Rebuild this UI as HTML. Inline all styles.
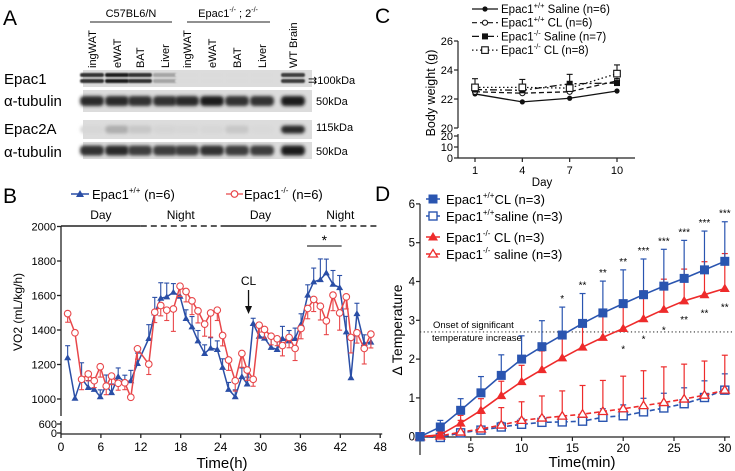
<!DOCTYPE html>
<html><head><meta charset="utf-8">
<style>
html,body{margin:0;padding:0;background:#fff;}
svg{display:block;font-family:"Liberation Sans",Arial,sans-serif;}
</style></head>
<body>
<svg id="fig" width="735" height="471" viewBox="0 0 735 471" xmlns="http://www.w3.org/2000/svg">
<defs>
<filter id="blur" x="-20%" y="-50%" width="140%" height="200%"><feGaussianBlur stdDeviation="1.6"/></filter>
<filter id="blur2" x="-20%" y="-50%" width="140%" height="200%"><feGaussianBlur stdDeviation="0.9"/></filter>
</defs>
<!-- Panel A -->
<g id="panelA">
<text x="3" y="25" font-size="21">A</text>
<text x="131" y="17" font-size="11" text-anchor="middle">C57BL6/N</text>
<line x1="90" y1="22" x2="172" y2="22" stroke="#222" stroke-width="1"/>
<text x="228" y="17" font-size="11" text-anchor="middle">Epac1<tspan font-size="7" dy="-5">-/-</tspan><tspan dy="5"> ; 2</tspan><tspan font-size="7" dy="-5">-/-</tspan></text>
<line x1="187" y1="22" x2="270" y2="22" stroke="#222" stroke-width="1"/>
<g id="lanes"></g>
<g id="blots"></g>
<text x="4" y="84" font-size="15">Epac1</text>
<text x="4" y="106" font-size="15">α-tubulin</text>
<text x="4" y="134" font-size="15">Epac2A</text>
<text x="4" y="157" font-size="15">α-tubulin</text>
<text x="308" y="84" font-size="11">⇉100kDa</text>
<text x="316" y="105" font-size="11">50kDa</text>
<text x="316" y="131" font-size="11">115kDa</text>
<text x="316" y="155" font-size="11">50kDa</text>
</g>
<g id="panelB"></g>
<g id="panelC"></g>
<g id="panelD"></g>
</svg>
<script>
// ---------- Panel A data ----------
const laneNames = ["ingWAT","eWAT","BAT","Liver","ingWAT","eWAT","BAT","Liver","WT Brain"];
const epac1Intensity = [0.85,0.95,0.85,0.3,0.03,0.03,0.03,0.03,0.8];
const tubulin1Intensity = [0.9,0.9,0.85,0.85,0.9,0.95,0.85,0.85,0.95];
const epac2Intensity = [0.05,0.25,0.12,0.06,0.05,0.05,0.12,0.04,0.9];
const tubulin2Intensity = [0.85,0.9,0.8,0.8,0.8,0.85,0.8,0.8,0.95];

// ---------- Panel B data ----------
const bTimes = [1,2.1,3.1,4.1,5,5.9,6.8,7.6,8.6,9.6,10.5,11.5,13.2,14.1,15,15.9,16.9,17.9,18.8,19.7,20.6,21.6,22.5,23.5,24.3,25.2,26.2,27.2,28.0,28.9,29.8,30.6,31.6,32.5,33.3,34.3,35.2,36.1,37.1,38,39,39.9,40.9,41.9,42.9,43.6,44.5,45.6,46.6];
const bWT = [1239,1004,1120,1067,1056,1013,1079,1037,1130,1098,1106,1206,1351,1499,1584,1592,1619,1596,1467,1418,1337,1264,1295,1287,1183,1056,1013,1130,1087,1438,1364,1353,1299,1287,1351,1337,1351,1434,1602,1679,1692,1731,1665,1646,1389,1123,1495,1322,1330];
const bWTerr = [70,0,90,40,50,40,60,50,50,40,60,60,80,90,90,80,50,60,50,60,60,50,60,50,50,40,40,50,40,30,60,50,60,60,70,60,60,60,60,80,120,80,80,70,90,0,60,50,40];
const bKO = [1495,1384,1114,1145,1106,1187,1075,1133,1091,1094,1010,1291,1202,1503,1542,1515,1522,1654,1623,1569,1511,1434,1499,1515,1368,1226,1106,1264,1168,1114,1428,1403,1364,1349,1310,1357,1293,1409,1525,1577,1538,1453,1602,1499,1592,1357,1384,1293,1376];
const bKOerr = [50,0,60,40,40,60,50,50,40,40,0,60,60,60,60,60,130,60,60,80,70,70,140,60,60,60,60,80,60,40,40,50,50,40,60,60,70,60,60,70,80,80,90,100,70,90,60,90,80];
const bYTicks = [1000,1200,1400,1600,1800,2000];
const bXTicks = [0,6,12,18,24,30,36,42,48];

// ---------- Panel C data ----------
const cDays = [1,4,7,10];
const cWTSaline = [22.35,21.8,22.05,22.55];
const cWTCL = [22.5,22.4,22.5,23.25];
const cKOSaline = [22.65,22.6,23.05,23.1];
const cKOCL = [22.8,22.8,22.75,23.75];
const cKOCLerr = [0.6,0.55,0.2,0.6];
const cKOSalineErr = [0.1,0.1,0.65,0.3];
const cYTicks = [20,22,24,26];
const cXTicks = [1,4,7,10];

// ---------- Panel D data ----------
const dTimes = [0,2,4,6,8,10,12,14,16,18,20,22,24,26,28,30];
const dWTCL = [0,0.25,0.68,1.13,1.58,2.0,2.32,2.62,2.92,3.19,3.43,3.66,3.88,4.08,4.30,4.52];
const dWTCLerr = [0,0.17,0.3,0.42,0.53,0.6,0.67,0.72,0.77,0.82,0.87,0.92,0.95,0.98,1.0,1.02];
const dKOCL = [0,0.05,0.35,0.68,1.06,1.42,1.73,2.03,2.31,2.56,2.79,3.04,3.28,3.50,3.66,3.82];
const dKOCLerr = [0,0.05,0.2,0.3,0.37,0.42,0.48,0.5,0.55,0.6,0.65,0.72,0.78,0.82,0.85,0.9];
const dWTSal = [0,-0.02,0.1,0.17,0.25,0.32,0.37,0.38,0.4,0.5,0.54,0.64,0.74,0.85,1.01,1.2];
const dWTSalErr = [0,0.02,0.05,0.08,0.12,0.15,0.15,0.17,0.2,0.22,0.28,0.35,0.38,0.41,0.43,0.42];
const dKOSal = [0,0.02,0.12,0.2,0.3,0.42,0.48,0.53,0.58,0.65,0.72,0.8,0.88,0.97,1.07,1.2];
const dKOSalErr = [0,0.1,0.3,0.4,0.45,0.48,0.57,0.65,0.74,0.8,0.84,0.9,0.92,0.9,0.88,0.9];
const dStarsWT = ["","","","","","","","*","**","**","**","***","***","***","***","***"];
const dStarsKO = ["","","","","","","","","","","*","*","*","**","**","**"];
const dYTicks = [0,1,2,3,4,5,6];
const dXTicks = [5,10,15,20,25,30];

const NS="http://www.w3.org/2000/svg";
function mk(parent,tag,attrs,text){const e=document.createElementNS(NS,tag);for(const k in attrs)e.setAttribute(k,attrs[k]);if(text!==undefined)e.textContent=text;parent.appendChild(e);return e;}

// ----- Panel A drawing -----
(function(){
  const lanesG=document.getElementById('lanes');
  const blots=document.getElementById('blots');
  const laneX=[92,117,140,165,187,212,237,262,293];
  laneNames.forEach((n,i)=>{
    const t=mk(lanesG,'text',{x:0,y:0,'font-size':11,transform:`translate(${laneX[i]+4},68) rotate(-90)`},n);
    
    
  });
  const rows=[{y:70,h:17,d:epac1Intensity,bh:11,name:'epac1-blot',dbl:true},{y:90,h:22,d:tubulin1Intensity,bh:10,name:'tubulin-blot-1'},{y:120,h:19,d:epac2Intensity,bh:8,name:'epac2a-blot'},{y:142,h:17,d:tubulin2Intensity,bh:10,name:'tubulin-blot-2'}];
  rows.forEach(r=>{
    const g=mk(blots,'g',{});
    
    
    mk(g,'rect',{x:83,y:r.y,width:229,height:r.h,fill:'#dcdcdc'});
    r.d.forEach((v,i)=>{
      const c=Math.round(225-v*205);
      const col=`rgb(${c},${c},${c})`;
      if(r.dbl){
        mk(g,'rect',{x:laneX[i]-12,y:r.y+3,width:24,height:4,rx:2,fill:col,filter:'url(#blur2)'});
        mk(g,'rect',{x:laneX[i]-12,y:r.y+9,width:24,height:4,rx:2,fill:col,filter:'url(#blur2)'});
      } else {
        mk(g,'rect',{x:laneX[i]-12,y:r.y+(r.h-r.bh)/2,width:24,height:r.bh,rx:4,fill:col,filter:'url(#blur)'});
      }
    });
  });
})();

// ----- Panel B -----
(function(){
  const g=document.getElementById('panelB');
  const x0=61,pxh=6.65;
  const X=t=>x0+t*pxh;
  const Y=v=>399-(v-1000)*0.1725;
  const lab=mk(g,'text',{x:3,y:203,'font-size':21},'B');
  
  // legend
  const l1=mk(g,'g',{});
  mk(l1,'line',{x1:71,y1:194,x2:89,y2:194,stroke:'#2a4ea6','stroke-width':1.5});
  mk(l1,'path',{d:'M80,190 L84,197 L76,197Z',fill:'#2a4ea6'});
  const t1=mk(l1,'text',{x:92,y:199,'font-size':13});t1.innerHTML='Epac1<tspan font-size="8" dy="-6">+/+</tspan><tspan dy="6"> (n=6)</tspan>';
  const l2=mk(g,'g',{});
  mk(l2,'line',{x1:226,y1:194,x2:243,y2:194,stroke:'#e8474a','stroke-width':1.2});
  mk(l2,'circle',{cx:234.5,cy:194,r:3.3,fill:'#fff',stroke:'#e8474a','stroke-width':1.2});
  const t2=mk(l2,'text',{x:244,y:199,'font-size':13});t2.innerHTML='Epac1<tspan font-size="8" dy="-6">-/-</tspan><tspan dy="6"> (n=6)</tspan>';
  // day/night bar
  const dn=[[0,12,'Day',false],[12,24,'Night',true],[24,36,'Day',false],[36,48,'Night',true]];
  dn.forEach((d,i)=>{
    const ln=mk(g,'line',{x1:X(d[0]),y1:226,x2:X(d[1]),y2:226,stroke:'#222','stroke-width':1.6});
    if(d[3])ln.setAttribute('stroke-dasharray','6,4');
    
    const tx=mk(g,'text',{x:X((d[0]+d[1])/2),y:219,'font-size':12,'text-anchor':'middle'},d[2]);
    
  });
  // axes
  const ax=mk(g,'g',{stroke:'#222','stroke-width':1.3,fill:'none'});
  mk(ax,'line',{x1:x0,y1:226,x2:x0,y2:416});
  mk(ax,'line',{x1:x0,y1:421,x2:x0,y2:434});
  mk(ax,'line',{x1:x0,y1:434,x2:X(48)+2,y2:434});
  bYTicks.forEach(v=>{
    mk(ax,'line',{x1:x0-4,y1:Y(v),x2:x0,y2:Y(v)});
    const t=mk(g,'text',{x:x0-5,y:Y(v)+4,'font-size':11,'text-anchor':'end'},String(v));
    
  });
  [[600,424],[0,433]].forEach(p=>{mk(ax,'line',{x1:x0-4,y1:p[1],x2:x0,y2:p[1]});
    const t=mk(g,'text',{x:x0-4,y:p[1]+4,'font-size':11,'text-anchor':'end'},String(p[0]));
    });
  bXTicks.forEach(v=>{
    mk(ax,'line',{x1:X(v),y1:434,x2:X(v),y2:438});
    const t=mk(g,'text',{x:X(v),y:451,'font-size':12,'text-anchor':'middle'},String(v));
    
  });
  const xt=mk(g,'text',{x:222,y:468,'font-size':15,'text-anchor':'middle'},'Time(h)');
  
  const yt=mk(g,'text',{x:0,y:0,'font-size':12,'text-anchor':'middle',transform:'translate(22,312) rotate(-90)'},'VO2 (mL/kg/h)');
  
  // significance and CL
  mk(g,'line',{x1:X(37),y1:246,x2:X(42.2),y2:246,stroke:'#555','stroke-width':1.5});
  const st=mk(g,'text',{x:X(39.6),y:245,'font-size':14,'text-anchor':'middle'},'*');
  
  const cl=mk(g,'text',{x:X(28.2),y:285,'font-size':12,'text-anchor':'middle'},'CL');
  
  mk(g,'line',{x1:X(28.2),y1:290,x2:X(28.2),y2:309,stroke:'#111','stroke-width':1.3});
  mk(g,'path',{d:`M${X(28.2)-3.5},306 L${X(28.2)+3.5},306 L${X(28.2)},314Z`,fill:'#111'});
  // series
  const series=[{v:bWT,e:bWTerr,c:'#2a4ea6',up:1,name:'wt'},{v:bKO,e:bKOerr,c:'#e8474a',up:-1,name:'ko'}];
  series.forEach(s=>{
    const sg=mk(g,'g',{});
    s.v.forEach((v,i)=>{
      if(!s.e[i])return;
      const y2=Y(v+s.up*s.e[i]);
      mk(sg,'line',{x1:X(bTimes[i]),y1:Y(v),x2:X(bTimes[i]),y2:y2,stroke:s.c,'stroke-width':1.1});
      mk(sg,'line',{x1:X(bTimes[i])-2.5,y1:y2,x2:X(bTimes[i])+2.5,y2:y2,stroke:s.c,'stroke-width':1.1});
    });
    mk(sg,'polyline',{points:s.v.map((v,i)=>X(bTimes[i])+','+Y(v)).join(' '),fill:'none',stroke:s.c,'stroke-width':1.5});
    s.v.forEach((v,i)=>{
      let m;
      if(s.name==='wt') m=mk(sg,'path',{d:`M${X(bTimes[i])},${Y(v)-3.5} L${X(bTimes[i])+3.5},${Y(v)+2.5} L${X(bTimes[i])-3.5},${Y(v)+2.5}Z`,fill:s.c});
      else m=mk(sg,'circle',{cx:X(bTimes[i]),cy:Y(v),r:3.3,fill:'#fff',stroke:s.c,'stroke-width':1.1});
      
    });
  });
})();

// ----- Panel C -----
(function(){
  const g=document.getElementById('panelC');
  const X=d=>475+(d-1)*(617-475)/9;
  const Y=v=>128-(v-20)*14.5;
  const lab=mk(g,'text',{x:375,y:23,'font-size':21},'C');
  
  const styles=[{v:cWTSaline,d:'',m:'fc',name:'wt-saline',lbl:['+/+',' Saline (n=6)']},
                {v:cWTCL,d:'5,3',m:'oc',name:'wt-cl',lbl:['+/+',' CL (n=6)']},
                {v:cKOSaline,d:'7,3,2,3',m:'fs',name:'ko-saline',lbl:['-/-',' Saline (n=7)']},
                {v:cKOCL,d:'1.5,2.5',m:'os',name:'ko-cl',lbl:['-/-',' CL (n=8)']}];
  function marker(p,t,x,y,s){
    let m;
    if(t==='fc')m=mk(p,'circle',{cx:x,cy:y,r:2.6,fill:'#111'});
    if(t==='oc')m=mk(p,'circle',{cx:x,cy:y,r:2.6,fill:'#fff',stroke:'#111','stroke-width':1});
    if(t==='fs')m=mk(p,'rect',{x:x-3,y:y-3,width:6,height:6,fill:'#111'});
    if(t==='os')m=mk(p,'rect',{x:x-3.3,y:y-3.3,width:6.6,height:6.6,fill:'#fff',stroke:'#111','stroke-width':1.1});
    return m;
  }
  styles.forEach((s,k)=>{
    const ly=9+k*13.7;
    const lg=mk(g,'g',{});
    const ln=mk(lg,'line',{x1:472,y1:ly,x2:498,y2:ly,stroke:'#111','stroke-width':1.2});
    if(s.d)ln.setAttribute('stroke-dasharray',s.d);
    marker(lg,s.m,485,ly);
    const t=mk(lg,'text',{x:501,y:ly+4,'font-size':11.5});
    t.innerHTML='Epac1<tspan font-size="7.5" dy="-5">'+s.lbl[0]+'</tspan><tspan dy="5">'+s.lbl[1]+'</tspan>';
  });
  const ax=mk(g,'g',{stroke:'#222','stroke-width':1.2});
  mk(ax,'line',{x1:458,y1:41,x2:458,y2:128});
  mk(ax,'line',{x1:458,y1:134,x2:458,y2:158});
  mk(ax,'line',{x1:458,y1:158,x2:635,y2:158});
  cYTicks.forEach(v=>{mk(ax,'line',{x1:454,y1:Y(v),x2:458,y2:Y(v)});
    const t=mk(g,'text',{x:453,y:Y(v)+4,'font-size':11,'text-anchor':'end'},String(v));
    });
  [[20,136],[10,147],[0,158]].forEach(p=>{mk(ax,'line',{x1:454,y1:p[1],x2:458,y2:p[1]});
    const t=mk(g,'text',{x:453,y:p[1]+4,'font-size':11,'text-anchor':'end'},String(p[0]));
    });
  cXTicks.forEach(v=>{mk(ax,'line',{x1:X(v),y1:158,x2:X(v),y2:162});
    const t=mk(g,'text',{x:X(v),y:174,'font-size':11,'text-anchor':'middle'},String(v));
    });
  const xt=mk(g,'text',{x:542,y:186,'font-size':11.5,'text-anchor':'middle'},'Day');
  
  const yt=mk(g,'text',{x:0,y:0,'font-size':12.5,'text-anchor':'middle',transform:'translate(435,93) rotate(-90)'},'Body weight (g)');
  
  const errs=[null,null,cKOSalineErr,cKOCLerr];
  styles.forEach((s,k)=>{
    const sg=mk(g,'g',{});
    if(errs[k]) s.v.forEach((v,i)=>{const y2=Y(v+errs[k][i]);
      mk(sg,'line',{x1:X(cDays[i]),y1:Y(v),x2:X(cDays[i]),y2:y2,stroke:'#111','stroke-width':1.1});
      mk(sg,'line',{x1:X(cDays[i])-3,y1:y2,x2:X(cDays[i])+3,y2:y2,stroke:'#111','stroke-width':1.1});});
    const pl=mk(sg,'polyline',{points:s.v.map((v,i)=>X(cDays[i])+','+Y(v)).join(' '),fill:'none',stroke:'#111','stroke-width':1.3});
    if(s.d)pl.setAttribute('stroke-dasharray',s.d);
    s.v.forEach((v,i)=>{const m=marker(sg,s.m,X(cDays[i]),Y(v));
      });
  });
})();

// ----- Panel D -----
(function(){
  const g=document.getElementById('panelD');
  const X=t=>420+t*10.16;
  const Y=v=>436.7-v*38.8;
  const blue='#2a55b0',red='#ee2b2b';
  const lab=mk(g,'text',{x:375,y:201,'font-size':21},'D');
  
  const ax=mk(g,'g',{stroke:'#222','stroke-width':1.2});
  mk(ax,'line',{x1:420,y1:Y(6),x2:420,y2:455});
  mk(ax,'line',{x1:420,y1:437,x2:730,y2:437});
  dYTicks.forEach(v=>{mk(ax,'line',{x1:416,y1:Y(v),x2:420,y2:Y(v)});
    const t=mk(g,'text',{x:415,y:Y(v)+4,'font-size':11.5,'text-anchor':'end'},String(v));
    });
  dXTicks.forEach(v=>{mk(ax,'line',{x1:X(v),y1:437,x2:X(v),y2:441});
    const t=mk(g,'text',{x:X(v),y:452,'font-size':12,'text-anchor':'middle'},String(v));
    });
  const xt=mk(g,'text',{x:582,y:467,'font-size':15,'text-anchor':'middle'},'Time(min)');
  
  const yt=mk(g,'text',{x:0,y:0,'font-size':14,'text-anchor':'middle',transform:'translate(402,330) rotate(-90)'},'Δ Temperature');
  
  // onset line
  const ol=mk(g,'line',{x1:420,y1:Y(2.7),x2:732,y2:Y(2.7),stroke:'#333','stroke-width':1.2,'stroke-dasharray':'1.2,2.5'});
  
  const o1=mk(g,'text',{x:433,y:Y(2.7)-4,'font-size':9.5},'Onset of significant');
  
  const o2=mk(g,'text',{x:432,y:Y(2.7)+9,'font-size':9.5},'temperature increase');
  
  const ser=[
    {v:dWTSal,e:dWTSalErr,c:blue,dash:'5,3',m:'os',name:'wt-saline'},
    {v:dKOSal,e:dKOSalErr,c:red,dash:'5,3',m:'ot',name:'ko-saline'},
    {v:dKOCL,e:dKOCLerr,c:red,dash:'',m:'ft',name:'ko-cl'},
    {v:dWTCL,e:dWTCLerr,c:blue,dash:'',m:'fs',name:'wt-cl'}];
  function marker(p,t,x,y,c){
    if(t==='fs')return mk(p,'rect',{x:x-4.5,y:y-4.5,width:9,height:9,fill:c});
    if(t==='os')return mk(p,'rect',{x:x-4,y:y-4,width:8,height:8,fill:'#fff',stroke:c,'stroke-width':1.4});
    if(t==='ft')return mk(p,'path',{d:`M${x},${y-5} L${x+5},${y+3.5} L${x-5},${y+3.5}Z`,fill:c});
    if(t==='ot')return mk(p,'path',{d:`M${x},${y-4.5} L${x+4.5},${y+3} L${x-4.5},${y+3}Z`,fill:'#fff',stroke:c,'stroke-width':1.3});
  }
  ser.forEach(s=>{
    const sg=mk(g,'g',{});
    s.v.forEach((v,i)=>{ if(!s.e[i])return; const y2=Y(v+s.e[i]);
      mk(sg,'line',{x1:X(dTimes[i]),y1:Y(v),x2:X(dTimes[i]),y2:y2,stroke:s.c,'stroke-width':1.2});
      mk(sg,'line',{x1:X(dTimes[i])-3,y1:y2,x2:X(dTimes[i])+3,y2:y2,stroke:s.c,'stroke-width':1.2});});
    const pl=mk(sg,'polyline',{points:s.v.map((v,i)=>X(dTimes[i])+','+Y(v)).join(' '),fill:'none',stroke:s.c,'stroke-width':1.6});
    if(s.dash)pl.setAttribute('stroke-dasharray',s.dash);
    s.v.forEach((v,i)=>{const m=marker(sg,s.m,X(dTimes[i]),Y(v),s.c);
      });
  });
  dStarsWT.forEach((s,i)=>{ if(!s)return;
    const t=mk(g,'text',{x:X(dTimes[i]),y:Y(dWTCL[i]+dWTCLerr[i])-5,'font-size':10,'text-anchor':'middle'},s);
    });
  dStarsKO.forEach((s,i)=>{ if(!s)return;
    const t=mk(g,'text',{x:X(dTimes[i]),y:Y(dKOCL[i])+(i>=26/2?22:24),'font-size':10,'text-anchor':'middle'},s);
    });
  // legend
  const lg=[{m:'fs',c:blue,y:199,l:['+/+','CL (n=3)']},{m:'os',c:blue,y:216,l:['+/+','saline (n=3)']},{m:'ft',c:red,y:237,l:['-/-',' CL (n=3)']},{m:'ot',c:red,y:254,l:['-/-',' saline (n=3)']}];
  lg.forEach((e,k)=>{
    const eg=mk(g,'g',{});
    mk(eg,'line',{x1:426,y1:e.y,x2:440,y2:e.y,stroke:e.c,'stroke-width':1.5});
    marker(eg,e.m,433,e.y,e.c);
    const t=mk(eg,'text',{x:446,y:e.y+5,'font-size':13});
    t.innerHTML='Epac1<tspan font-size="8" dy="-6">'+e.l[0]+'</tspan><tspan dy="6">'+e.l[1]+'</tspan>';
  });
})();
</script>
</body></html>
